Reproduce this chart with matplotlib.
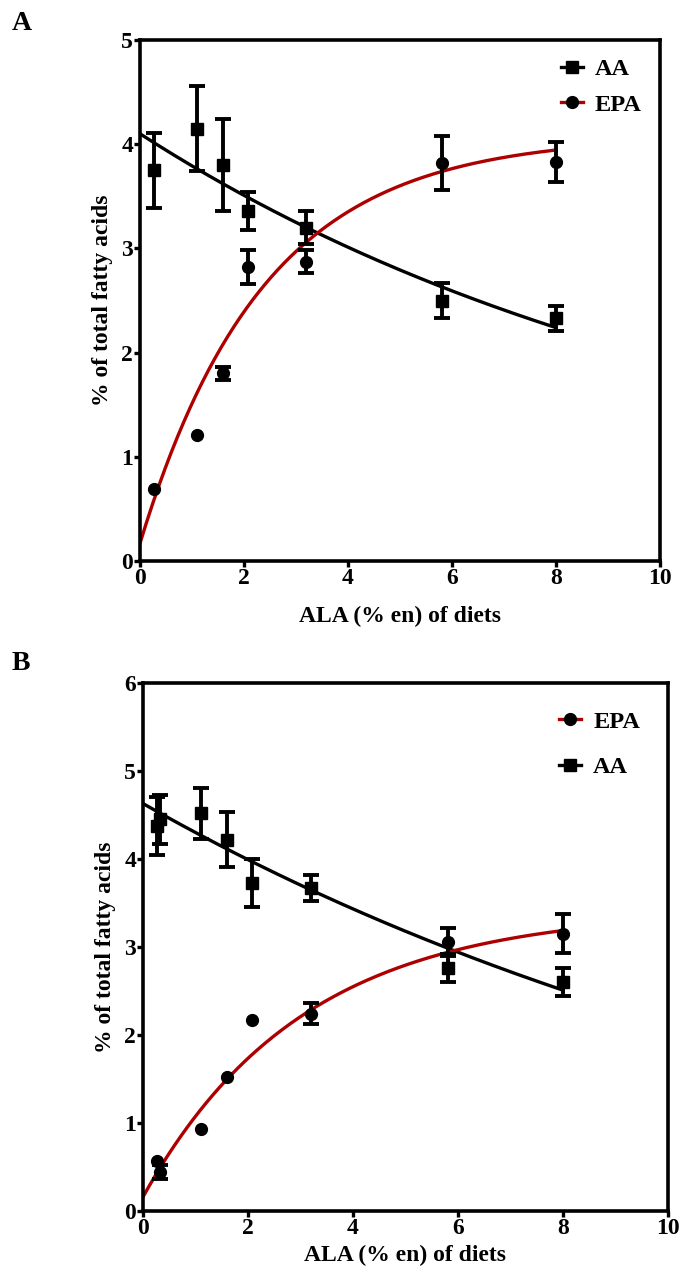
import numpy as np
import matplotlib.pyplot as plt
from matplotlib.lines import Line2D

plt.rcParams['font.family'] = ['Liberation Serif', 'DejaVu Serif']
plt.rcParams['font.weight'] = 'bold'

RED = '#ad0000'

# ---- panel A data ----
a_x = [0.27, 1.1, 1.6, 2.07, 3.2, 5.8, 8.0]
a_aa = [3.75, 4.15, 3.80, 3.36, 3.20, 2.50, 2.33]
a_aa_err = [0.36, 0.41, 0.44, 0.18, 0.16, 0.17, 0.12]
a_epa = [0.69, 1.21, 1.80, 2.82, 2.87, 3.82, 3.83]
a_epa_err = [0.0, 0.0, 0.06, 0.16, 0.11, 0.26, 0.19]
# fitted curves: start, span, rate
a_aa_fit = (4.10, 3.74, 0.086)
a_epa_fit = (0.17, 3.91, 0.42)

# ---- panel B data ----
b_x_aa = [0.27, 0.33, 1.1, 1.6, 2.07, 3.2, 5.8, 8.0]
b_aa = [4.38, 4.45, 4.52, 4.22, 3.73, 3.67, 2.76, 2.60]
b_aa_err = [0.33, 0.28, 0.29, 0.31, 0.27, 0.15, 0.16, 0.16]
b_x_epa = [0.27, 0.33, 1.1, 1.6, 2.07, 3.2, 5.8, 8.0]
b_epa = [0.57, 0.44, 0.93, 1.52, 2.17, 2.24, 3.06, 3.15]
b_epa_err = [0.0, 0.08, 0.0, 0.0, 0.0, 0.12, 0.16, 0.22]
b_aa_fit = (4.63, 5.23, 0.065)
b_epa_fit = (0.16, 3.26, 0.33)

x_ticks = [0, 2, 4, 6, 8, 10]
x_label = 'ALA (% en) of diets'
y_label = '% of total fatty acids'


def fit_curve(params, rising, xmax=8.0):
    """ one phase exponential, going up (EPA) or down (AA) """
    y0, span, k = params
    xs = np.linspace(0, xmax, 200)
    if rising:
        return xs, y0 + span * (1 - np.exp(-k * xs))
    return xs, y0 - span * (1 - np.exp(-k * xs))


def style_axes(ax, ymax):
    for s in ax.spines.values():
        s.set_linewidth(2.6)
    ax.set_xlim(0, 10)
    ax.set_ylim(0, ymax)
    ax.set_xticks(x_ticks)
    ax.set_yticks(range(0, ymax + 1))
    ax.tick_params(direction='out', length=4, width=2.4, labelsize=17, pad=1,
                   top=False, right=False)
    for lab in ax.get_xticklabels() + ax.get_yticklabels():
        lab.set_fontweight('bold')
    ax.set_ylabel(y_label, fontsize=17, fontweight='bold', labelpad=6)


def draw_series(ax, x, y, err, fit, rising, color, marker):
    xs, ys = fit_curve(fit, rising)
    ax.plot(xs, ys, color=color, lw=2.4, zorder=2)
    # error bars only where there is an error to show
    ex = [xi for xi, e in zip(x, err) if e > 0]
    ey = [yi for yi, e in zip(y, err) if e > 0]
    ee = [e for e in err if e > 0]
    ax.errorbar(ex, ey, yerr=ee, fmt='none', ecolor='black',
                elinewidth=2.8, capsize=5.5, capthick=2.8, zorder=3)
    ax.plot(x, y, marker, color='black', ms=8.5, zorder=4)


def legend_handle(color, marker):
    return Line2D([0], [0], color=color, lw=2.4, marker=marker,
                  markerfacecolor='black', markeredgecolor='black', ms=8.5)


fig = plt.figure(figsize=(6.84, 12.82), dpi=100)

# panel A
axA = fig.add_axes([140 / 684, 1 - 561 / 1282, 520 / 684, 521 / 1282])
style_axes(axA, 5)
draw_series(axA, a_x, a_aa, a_aa_err, a_aa_fit, False, 'black', 's')
draw_series(axA, a_x, a_epa, a_epa_err, a_epa_fit, True, RED, 'o')
axA.set_xlabel(x_label, fontsize=17, fontweight='bold', labelpad=12)
axA.legend([legend_handle('black', 's'), legend_handle(RED, 'o')], ['AA', 'EPA'],
           loc='upper right', frameon=False, handlelength=0.9,
           handletextpad=0.5, labelspacing=0.55, borderaxespad=0.35,
           prop={'weight': 'bold', 'size': 17.5})
fig.text(12 / 684, 1 - 30 / 1282, 'A', fontsize=20, fontweight='bold')

# panel B
axB = fig.add_axes([143 / 684, 1 - 1211 / 1282, 525 / 684, 528 / 1282])
style_axes(axB, 6)
draw_series(axB, b_x_aa, b_aa, b_aa_err, b_aa_fit, False, 'black', 's')
draw_series(axB, b_x_epa, b_epa, b_epa_err, b_epa_fit, True, RED, 'o')
axB.set_xlabel(x_label, fontsize=17, fontweight='bold', labelpad=4)
axB.legend([legend_handle(RED, 'o'), legend_handle('black', 's')], ['EPA', 'AA'],
           loc='upper right', frameon=False, handlelength=0.9,
           handletextpad=0.5, labelspacing=0.95, borderaxespad=0.75,
           prop={'weight': 'bold', 'size': 17.5})
fig.text(12 / 684, 1 - 670 / 1282, 'B', fontsize=20, fontweight='bold')

fig.savefig('out.png', dpi=100)
